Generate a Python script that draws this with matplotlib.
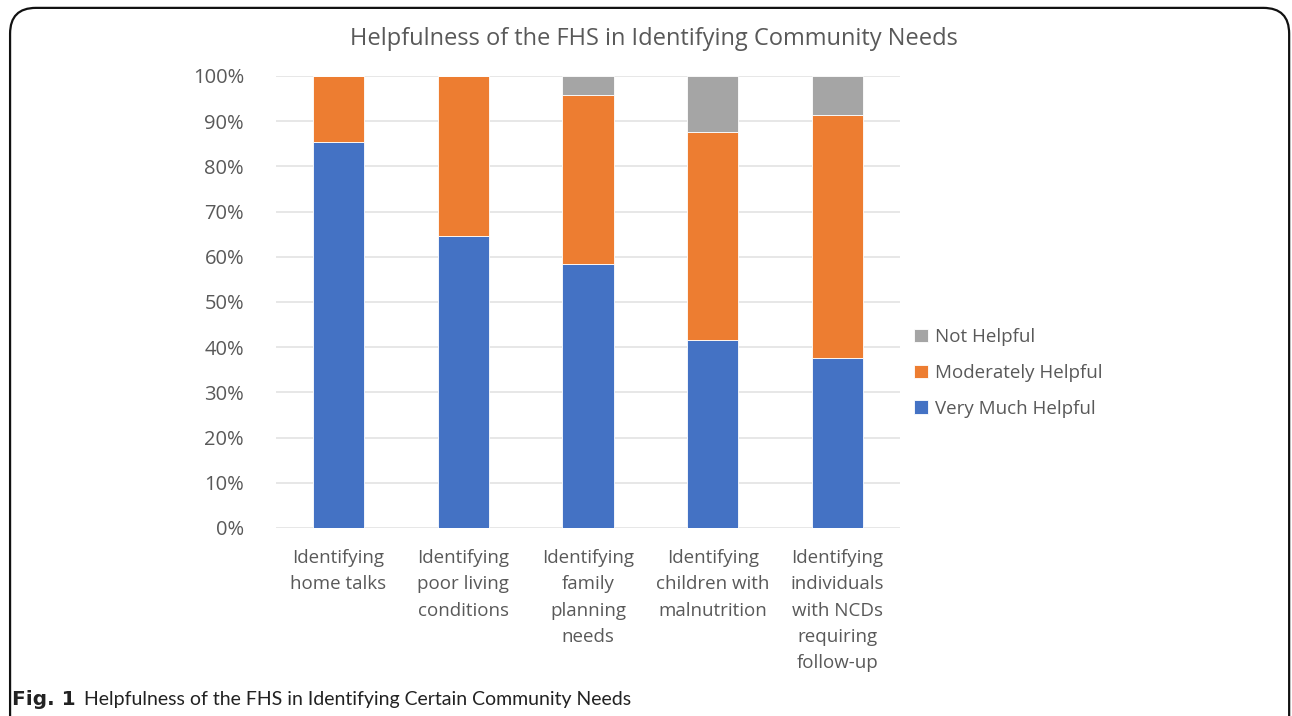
import matplotlib
matplotlib.use("Agg")
import matplotlib.pyplot as plt
from matplotlib.patches import FancyBboxPatch
import numpy as np

# ---- data ------------------------------------------------------------------
CATEGORIES = [
    "Identifying\nhome talks",
    "Identifying\npoor living\nconditions",
    "Identifying\nfamily\nplanning\nneeds",
    "Identifying\nchildren with\nmalnutrition",
    "Identifying\nindividuals\nwith NCDs\nrequiring\nfollow-up",
]
very_much = [85.3, 64.5, 58.4, 41.6, 37.6]
moderately = [14.7, 35.5, 37.3, 45.9, 53.8]
not_helpful = [0.0, 0.0, 4.3, 12.5, 8.6]
SERIES = ["Very Much Helpful", "Moderately Helpful", "Not Helpful"]

BLUE, ORANGE, GRAY = "#4472c4", "#ed7d31", "#a5a5a5"
TXT = "#595959"
GRID = "#e3e3e3"
FONT = ["Open Sans", "DejaVu Sans"]
CAP_FONT = ["Lato", "DejaVu Sans"]

plt.rcParams["font.family"] = FONT

fig = plt.figure(figsize=(12.92, 7.16), dpi=100)
ax = fig.add_axes([0.2136, 0.2626, 0.483, 0.6313])

x = np.arange(len(CATEGORIES))
w = 0.41
b1 = ax.bar(x, very_much, w, color=BLUE, edgecolor="white", linewidth=0.6, label=SERIES[0])
b2 = ax.bar(x, moderately, w, bottom=very_much, color=ORANGE, edgecolor="white",
            linewidth=0.6, label=SERIES[1])
bottom3 = np.array(very_much) + np.array(moderately)
b3 = ax.bar(x, not_helpful, w, bottom=bottom3, color=GRAY, edgecolor="white",
            linewidth=0.6, label=SERIES[2])

ax.set_xlim(-0.5, len(CATEGORIES) - 0.5)
ax.set_ylim(0, 100)
ax.set_yticks(range(0, 101, 10))
ax.set_yticklabels([f"{v}%" for v in range(0, 101, 10)], fontsize=14.5, color=TXT)
ax.set_xticks(x)
ax.set_xticklabels(CATEGORIES, fontsize=13.5, color=TXT, linespacing=1.6)
ax.tick_params(axis="both", length=0)
ax.tick_params(axis="y", pad=23)
ax.tick_params(axis="x", pad=15)
for s in ax.spines.values():
    s.set_visible(False)
ax.yaxis.grid(True, color=GRID, lw=1.2)
ax.set_axisbelow(True)

fig.text(654 / 1292, 1 - 39 / 716, "Helpfulness of the FHS in Identifying Community Needs",
         fontsize=17, color=TXT, ha="center", va="center")

handles = [b3, b2, b1]
leg = ax.legend(handles, [h.get_label() for h in handles], loc="center left",
                bbox_to_anchor=(0.995, 0.343), frameon=False, fontsize=13.5,
                handlelength=0.75, handleheight=0.75, handletextpad=0.4,
                labelspacing=0.95, labelcolor=TXT)

# caption and outer rounded frame
fig.text(0.0095, 0.016, "Fig. 1", fontsize=14.5, fontweight="bold", color="#222222",
         family=["DejaVu Sans"])
fig.text(84 / 1292, 0.016, "Helpfulness of the FHS in Identifying Certain Community Needs",
         fontsize=14.0, color="#222222", family=CAP_FONT)
frame = FancyBboxPatch((0.0078, -0.1), 0.99, 1.089,
                       boxstyle="round,pad=0,rounding_size=0.02",
                       transform=fig.transFigure, fill=False, ec="#111111", lw=1.6,
                       mutation_aspect=1292 / 716)
fig.patches.append(frame)

fig.savefig("out.png", dpi=100)
